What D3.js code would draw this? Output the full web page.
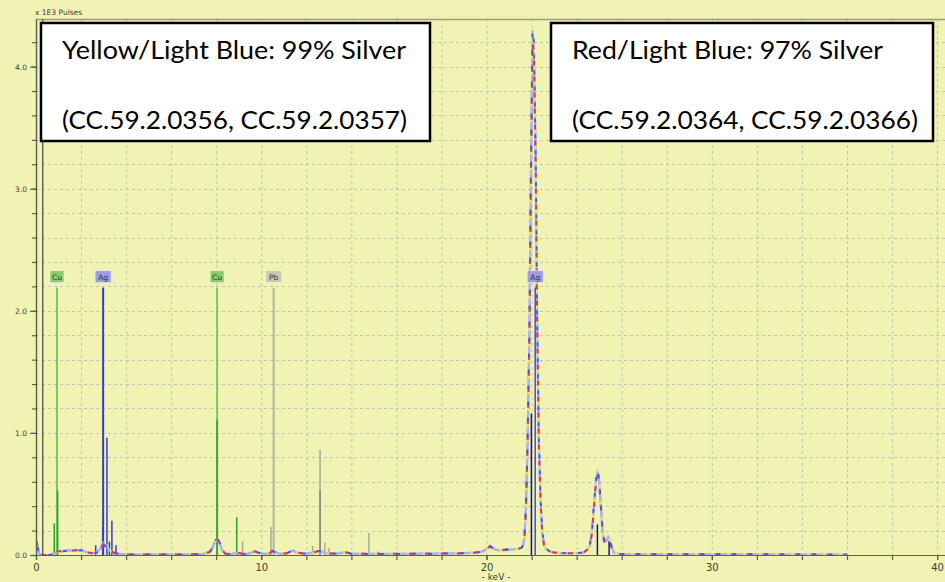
<!DOCTYPE html>
<html>
<head>
<meta charset="utf-8">
<script src="https://cdn.jsdelivr.net/npm/d3@7"></script>
<style>
  body { margin: 0; background: #f0f3b2; }
  svg { display: block; }
</style>
</head>
<body>
<svg id="chart" width="945" height="582"></svg>
<script>
// spectrum energies (keV) and intensities (x 1E3 pulses)
let energy = [0.00, 0.03, 0.08, 0.15, 0.30, 0.60, 0.85, 0.95, 1.05, 1.20, 1.40, 1.60, 1.80, 2.00, 2.15, 2.30, 2.50, 2.70, 2.85, 2.98,
  3.08, 3.15, 3.25, 3.35, 3.50, 3.70, 4.00, 4.50, 5.00, 5.50, 6.00, 6.50, 7.00, 7.40, 7.70, 7.85, 7.95, 8.05, 8.15, 8.25,
  8.40, 8.70, 8.90, 9.10, 9.40, 9.60, 9.72, 9.85, 10.10, 10.35, 10.50, 10.60, 10.80, 11.10, 11.30, 11.42, 11.55, 11.90, 12.30, 12.50,
  12.62, 12.75, 13.00, 13.40, 13.65, 13.80, 14.00, 14.50, 15.00, 15.50, 16.00, 16.50, 17.00, 17.50, 18.00, 18.50, 19.00, 19.50, 19.80, 20.00,
  20.15, 20.30, 20.50, 20.80, 21.10, 21.40, 21.55, 21.62, 21.68, 21.75, 21.82, 21.90, 21.97, 22.04, 22.10, 22.18, 22.25, 22.32, 22.40, 22.47,
  22.55, 22.65, 22.80, 23.00, 23.30, 23.60, 24.00, 24.30, 24.45, 24.58, 24.68, 24.77, 24.86, 24.93, 25.00, 25.08, 25.15, 25.22, 25.30, 25.40,
  25.48, 25.56, 25.65, 25.90, 26.50, 27.00, 28.00, 29.00, 30.00, 31.00, 32.00, 33.00, 34.00, 35.00, 36.00]

// Yellow/Light Blue: 99% silver
let spec99 = [0.02, 0.12, 0.06, 0.01, 0.00, 0.00, 0.01, 0.03, 0.025, 0.03, 0.035, 0.04, 0.035, 0.04, 0.03, 0.02, 0.015, 0.02, 0.05, 0.10,
  0.07, 0.08, 0.04, 0.03, 0.015, 0.01, 0.005, 0.005, 0.004, 0.005, 0.004, 0.005, 0.006, 0.008, 0.02, 0.06, 0.11, 0.125, 0.10, 0.04,
  0.01, 0.008, 0.02, 0.01, 0.01, 0.025, 0.035, 0.02, 0.01, 0.01, 0.03, 0.025, 0.01, 0.012, 0.03, 0.04, 0.02, 0.012, 0.015, 0.03,
  0.035, 0.02, 0.012, 0.012, 0.025, 0.02, 0.01, 0.01, 0.008, 0.01, 0.009, 0.01, 0.012, 0.01, 0.012, 0.015, 0.015, 0.02, 0.025, 0.045,
  0.075, 0.055, 0.04, 0.045, 0.045, 0.05, 0.06, 0.08, 0.14, 0.40, 0.95, 1.80, 3.20, 4.30, 4.20, 3.30, 1.90, 0.95, 0.45, 0.20,
  0.09, 0.05, 0.03, 0.02, 0.015, 0.015, 0.015, 0.02, 0.04, 0.08, 0.20, 0.42, 0.62, 0.70, 0.62, 0.40, 0.20, 0.12, 0.12, 0.15,
  0.12, 0.06, 0.02, 0.008, 0.005, 0.005, 0.006, 0.005, 0.006, 0.006, 0.005, 0.005, 0.004, 0.004, 0.003]

// Red/Light Blue: 97% silver
let spec97 = [0.02, 0.11, 0.05, 0.01, 0.00, 0.00, 0.01, 0.03, 0.03, 0.035, 0.04, 0.035, 0.04, 0.035, 0.03, 0.02, 0.015, 0.02, 0.05, 0.09,
  0.07, 0.075, 0.04, 0.03, 0.015, 0.01, 0.005, 0.004, 0.005, 0.004, 0.005, 0.004, 0.006, 0.008, 0.025, 0.07, 0.12, 0.13, 0.11, 0.045,
  0.012, 0.008, 0.02, 0.012, 0.01, 0.02, 0.03, 0.02, 0.01, 0.012, 0.035, 0.025, 0.012, 0.012, 0.025, 0.035, 0.02, 0.012, 0.02, 0.03,
  0.035, 0.02, 0.012, 0.012, 0.02, 0.02, 0.01, 0.01, 0.01, 0.008, 0.01, 0.01, 0.01, 0.012, 0.012, 0.012, 0.015, 0.02, 0.03, 0.05,
  0.07, 0.05, 0.04, 0.04, 0.045, 0.05, 0.06, 0.075, 0.13, 0.38, 0.90, 1.75, 3.10, 4.20, 4.10, 3.20, 1.85, 0.92, 0.42, 0.19,
  0.08, 0.05, 0.03, 0.02, 0.015, 0.015, 0.015, 0.02, 0.04, 0.07, 0.18, 0.40, 0.60, 0.66, 0.60, 0.38, 0.19, 0.11, 0.11, 0.14,
  0.11, 0.06, 0.02, 0.008, 0.005, 0.006, 0.005, 0.006, 0.005, 0.005, 0.006, 0.004, 0.004, 0.003, 0.003]

// element markers
let labelNames = ['Cu', 'Ag', 'Cu', 'Pb', 'Ag']
let labelKeV = [0.93, 2.98, 8.04, 10.55, 22.16]
let labelTop = 2.19

let cuKeV = [0.81, 0.96, 8.04, 8.91]
let cuHeight = [0.26, 0.53, 1.11, 0.31]
let agLKeV = [2.65, 2.96, 3.15, 3.26, 3.37, 3.55]
let agLHeight = [0.08, 0.23, 0.96, 0.11, 0.28, 0.08]
let pbKeV = [9.17, 10.43, 12.28, 12.61, 12.82, 13.01, 14.78, 15.20]
let pbHeight = [0.11, 0.23, 0.075, 0.86, 0.10, 0.06, 0.18, 0.03]
let pbDarkKeV = [12.61]
let pbDarkHeight = [0.53]
let agKKeV = [21.99, 24.92, 25.44]
let agKHeight = [1.16, 0.25, 0.11]

let xMajor = [0, 10, 20, 30, 40]
let yMajor = [0, 1, 2, 3, 4]

let boxLines = [
  ['Yellow/Light Blue: 99% Silver', '(CC.59.2.0356, CC.59.2.0357)'],
  ['Red/Light Blue: 97% Silver', '(CC.59.2.0364, CC.59.2.0366)']
]

let svg = d3.select('#chart')
let x = d3.scaleLinear().domain([0, 40.35]).range([36, 945])
let y = d3.scaleLinear().domain([0, 4.39]).range([555, 19])

let labelColors = { Cu: '#8ccb6c', Ag: '#9c9ce4', Pb: '#c9c9ad' }
let lineColors = { Cu: '#7cc464', Ag: '#3c3cc4', Pb: '#b4b4a4' }

svg.append('rect').attr('width', 945).attr('height', 582).attr('fill', '#f0f3b2')

// grid
let grid = svg.append('g').attr('stroke', '#c4c4b0').attr('stroke-dasharray', '3,3').attr('stroke-width', 1)
grid.selectAll('.vg').data(d3.range(2, 41, 2)).enter().append('line')
  .attr('x1', d => x(d) + 0.5).attr('x2', d => x(d) + 0.5)
  .attr('y1', y(4.39)).attr('y2', y(0))
grid.selectAll('.hg').data(d3.range(1, 22).map(d => d / 5)).enter().append('line')
  .attr('x1', x(0)).attr('x2', 945)
  .attr('y1', d => Math.round(y(d)) + 0.5).attr('y2', d => Math.round(y(d)) + 0.5)

// top border
svg.append('line').attr('x1', x(0)).attr('x2', 945).attr('y1', 19.5).attr('y2', 19.5)
  .attr('stroke', '#9a9a84').attr('stroke-width', 1.5)

// marker lines
function drawLines(keVs, heights, color, width) {
  svg.append('g').selectAll('line').data(keVs).enter().append('line')
    .attr('x1', d => x(d)).attr('x2', d => x(d))
    .attr('y1', y(0)).attr('y2', (d, i) => y(heights[i]))
    .attr('stroke', color).attr('stroke-width', width)
}

let lowLabels = labelKeV.slice(0, 4)
drawLines(lowLabels, lowLabels.map(() => labelTop), (d, i) => lineColors[labelNames[i]], 2)
drawLines(cuKeV, cuHeight, '#2f9e22', 1.5)
drawLines(agLKeV, agLHeight, '#3a3ad8', 1.5)
drawLines(pbKeV, pbHeight, '#aaaa98', 1.5)
drawLines(pbDarkKeV, pbDarkHeight, '#86867a', 1.5)

// spectra
svg.append('clipPath').attr('id', 'plotClip').append('rect')
  .attr('x', x(0)).attr('y', y(4.39)).attr('width', 945 - x(0)).attr('height', y(0) - y(4.39))

let line = d3.line().x((d, i) => x(energy[i])).y(d => y(d))
let spectra = svg.append('g').attr('clip-path', 'url(#plotClip)').attr('fill', 'none')

spectra.append('path').datum(spec97).attr('d', line).attr('stroke', '#a9b3ec').attr('stroke-width', 2.2)
spectra.append('path').datum(spec99).attr('d', line).attr('stroke', '#a9b3ec').attr('stroke-width', 2)
spectra.append('path').datum(spec99).attr('d', line).attr('stroke', '#f4f02a').attr('stroke-width', 2)
  .attr('stroke-dasharray', '3,13').attr('stroke-dashoffset', 2)
spectra.append('path').datum(spec97).attr('d', line).attr('stroke', '#e8344c').attr('stroke-width', 2)
  .attr('stroke-dasharray', '5,11').attr('stroke-dashoffset', 6)
spectra.append('path').datum(spec99).attr('d', line).attr('stroke', '#4654ec').attr('stroke-width', 1.8)
  .attr('stroke-dasharray', '4,12').attr('stroke-dashoffset', 13)

// Ag K marker lines over the peak
drawLines([labelKeV[4]], [labelTop], '#4a4adc', 1.5)
drawLines(agKKeV, agKHeight, '#15158a', 1.5)

// cursor line
svg.append('line').attr('x1', x(0.3)).attr('x2', x(0.3)).attr('y1', y(4.39)).attr('y2', y(0))
  .attr('stroke', '#4a4a3c').attr('stroke-width', 1.2)

// element labels
let labels = svg.append('g').selectAll('g').data(labelNames).enter().append('g')
  .attr('transform', (d, i) => 'translate(' + x(labelKeV[i]) + ',' + (y(labelTop) - 5) + ')')
labels.append('rect')
  .attr('x', d => d === 'Cu' ? -7 : -8).attr('y', -12)
  .attr('width', d => d === 'Cu' ? 14 : 16).attr('height', 12)
  .attr('fill', d => labelColors[d]).attr('stroke', '#ffffff').attr('stroke-opacity', 0.5)
labels.append('text').attr('y', -3).attr('text-anchor', 'middle')
  .attr('font-family', 'DejaVu Sans, sans-serif').attr('font-size', 7.5).attr('fill', '#333')
  .text(d => d)

// axes
let axisY = svg.append('g').attr('transform', 'translate(' + x(0) + ',0)')
axisY.call(d3.axisLeft(y).tickValues(d3.range(0, 22).map(d => d / 5)).tickSize(4).tickSizeOuter(0).tickFormat(''))
let axisYMajor = svg.append('g').attr('transform', 'translate(' + x(0) + ',0)')
axisYMajor.call(d3.axisLeft(y).tickValues(yMajor).tickSize(6).tickPadding(3).tickSizeOuter(0).tickFormat(d3.format('.1f')))

let axisX = svg.append('g').attr('transform', 'translate(0,' + y(0) + ')')
axisX.call(d3.axisBottom(x).tickValues(d3.range(0, 41, 2)).tickSize(5).tickSizeOuter(0).tickFormat(''))
let axisXMajor = svg.append('g').attr('transform', 'translate(0,' + y(0) + ')')
axisXMajor.call(d3.axisBottom(x).tickValues(xMajor).tickSize(5).tickPadding(4).tickSizeOuter(0).tickFormat(d3.format('d')))

svg.selectAll('.domain, .tick line').attr('stroke', '#5e5e50').attr('stroke-width', 1.2)
axisYMajor.selectAll('text').attr('font-family', 'DejaVu Sans, sans-serif').attr('font-size', 7.5).attr('fill', '#3c3c3c')
axisXMajor.selectAll('text').attr('font-family', 'DejaVu Sans, sans-serif').attr('font-size', 10).attr('fill', '#3c3c3c')

svg.append('text').attr('x', 35).attr('y', 15)
  .attr('font-family', 'DejaVu Sans, sans-serif').attr('font-size', 7.5).attr('fill', '#3c3c3c')
  .text('x 1E3 Pulses')
svg.append('text').attr('x', 496).attr('y', 580).attr('text-anchor', 'middle')
  .attr('font-family', 'DejaVu Sans, sans-serif').attr('font-size', 9).attr('fill', '#3c3c3c')
  .text('- keV -')

// annotation boxes
let boxX = [41, 551]
let boxW = [389, 382]
let textW = [[344, 345], [311, 346]]
let boxes = svg.append('g').selectAll('g').data(boxLines).enter().append('g')
boxes.append('rect')
  .attr('x', (d, i) => boxX[i]).attr('y', 23).attr('width', (d, i) => boxW[i]).attr('height', 118)
  .attr('fill', '#fff').attr('stroke', '#000').attr('stroke-width', 2.5)
boxes.each(function (d, i) {
  d3.select(this).selectAll('text').data(d).enter().append('text')
    .attr('x', boxX[i] + 21).attr('y', (t, j) => j === 0 ? 59 : 129)
    .attr('font-family', 'Lato, sans-serif').attr('font-size', 25).attr('fill', '#000')
    .attr('textLength', (t, j) => textW[i][j]).attr('lengthAdjust', 'spacingAndGlyphs')
    .text(t => t)
})
</script>
</body>
</html>
